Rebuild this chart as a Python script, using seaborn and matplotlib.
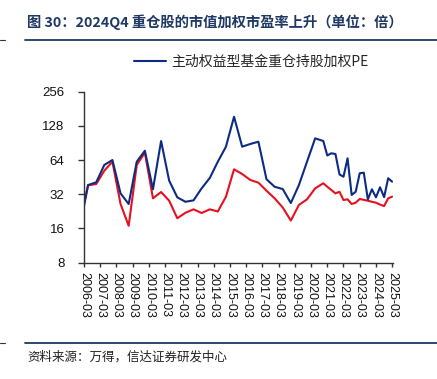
import numpy as np
import pandas as pd
import matplotlib
matplotlib.use("Agg")
import matplotlib.pyplot as plt
import matplotlib.dates as mdates
from matplotlib.lines import Line2D
import seaborn as sns

# ---------------- data ----------------
dates = [
    "2006-03", "2006-06", "2006-12", "2007-06", "2007-12", "2008-06", "2008-12",
    "2009-06", "2009-12", "2010-06", "2010-12", "2011-06", "2011-12", "2012-06",
    "2012-12", "2013-06", "2013-12", "2014-06", "2014-12", "2015-06", "2015-12",
    "2016-06", "2016-12", "2017-06", "2017-12", "2018-06", "2018-12", "2019-06",
    "2019-12", "2020-06", "2020-12", "2021-03", "2021-06", "2021-09", "2021-12",
    "2022-03", "2022-06", "2022-09", "2022-12", "2023-03", "2023-06", "2023-09",
    "2023-12", "2024-03", "2024-06", "2024-09", "2024-12", "2025-03",
]
fund_pe = [
    25.2, 38.6, 40.8, 58.0, 64.1, 32.6, 26.3, 62.0, 77.4, 35.4, 94.2, 42.2,
    30.1, 27.5, 28.3, 36.1, 44.5, 62.0, 84.0, 154.2, 84.0, 88.7, 92.9, 43.4,
    37.3, 35.6, 26.8, 38.6, 62.0, 99.5, 94.2,
    70.3, 73.5, 72.4, 47.8, 45.7, 66.4, 31.6, 33.7, 49.0, 49.6, 28.9, 35.4,
    30.1, 36.9, 30.2, 44.3, 41.3,
]
other_pe = [
    26.7, 38.4, 39.4, 51.6, 62.0, 26.3, 16.9, 58.0, 74.3, 29.5, 33.5, 28.1,
    19.7, 22.0, 23.6, 21.9, 23.6, 22.6, 30.5, 53.1, 48.3, 42.8, 40.5, 34.4,
    29.5, 24.5, 18.8, 25.8, 28.9, 36.1, 40.0,
    37.3, 34.9, 32.6, 33.7, 28.5, 28.9, 26.3, 27.0, 29.1, 28.6, 28.1, 27.5,
    27.0, 26.0, 25.2, 29.5, 30.5,
]
series_names = ["主动权益型基金重仓持股加权PE", "对比PE"]
y_ticks = [8, 16, 32, 64, 128, 256]
x_tick_years = list(range(2006, 2026))

title = "图 30：2024Q4 重仓股的市值加权市盈率上升（单位：倍）"
source = "资料来源：万得，信达证券研发中心"

# ---------------- build table ----------------
d = pd.to_datetime(dates, format="%Y-%m")
df = pd.DataFrame({
    "date": np.concatenate([d, d]),
    "pe": fund_pe + other_pe,
    "series": [series_names[0]] * len(d) + [series_names[1]] * len(d),
})

blue = "#0C2C84"
red = "#E8101E"
navy = "#1F3864"

sns.set_style("ticks")
plt.rcParams["font.family"] = ["Liberation Sans", "Noto Sans CJK SC", "DejaVu Sans"]

fig = plt.figure(figsize=(4.37, 3.79), dpi=100)
ax = fig.add_axes([84 / 437, 1 - 262.7 / 379, (393 - 84) / 437, (262.7 - 91.7) / 379])

sns.lineplot(data=df, x="date", y="pe", hue="series",
             palette={series_names[0]: blue, series_names[1]: red},
             hue_order=[series_names[1], series_names[0]],
             linewidth=1.5, legend=False, ax=ax)

ax.set_yscale("log", base=2)
ax.set_ylim(8, 256)
ax.set_yticks(y_ticks)
ax.set_yticklabels([str(v) for v in y_ticks])
ax.yaxis.set_minor_locator(matplotlib.ticker.NullLocator())

xt = [pd.Timestamp(f"{y}-03-01") for y in x_tick_years]
ax.set_xlim(pd.Timestamp("2006-03-01"), pd.Timestamp("2025-03-20"))
ax.set_xticks(xt)
ax.set_xticklabels([f"{y}-03" for y in x_tick_years], rotation=270)
ax.set_xlabel("")
ax.set_ylabel("")

for s in ["top", "right"]:
    ax.spines[s].set_visible(False)
for s in ["left", "bottom"]:
    ax.spines[s].set_color("#333333")
    ax.spines[s].set_linewidth(1.0)
ax.tick_params(axis="both", direction="out", length=3, width=1, color="#333333",
               labelcolor="#111111")
ax.tick_params(axis="y", labelsize=9.5, pad=10, length=4)
ax.tick_params(axis="x", labelsize=9, pad=4)

# legend (only the fund series)
handle = Line2D([0], [0], color=blue, linewidth=1.5)
fig.legend([handle], [series_names[0]], loc="center left",
           bbox_to_anchor=(134 / 437, 1 - 62 / 379), frameon=False,
           borderpad=0, borderaxespad=0, handlelength=2.3, handletextpad=0.35,
           prop={"family": ["Noto Sans CJK SC"], "size": 10})

# title and rules
fig.text(27 / 437, 1 - 22 / 379, title, ha="left", va="center", color=navy,
         fontsize=10.3, fontweight="bold", family=["Noto Sans CJK SC", "DejaVu Sans"])
fig.add_artist(Line2D([25 / 437, 1], [1 - 40 / 379, 1 - 40 / 379], color=navy,
                      linewidth=1.3, transform=fig.transFigure))
fig.add_artist(Line2D([25 / 437, 1], [1 - 343 / 379, 1 - 343 / 379], color=navy,
                      linewidth=1.3, transform=fig.transFigure))
for yy in (40, 343):
    fig.add_artist(Line2D([0, 5 / 437], [1 - yy / 379, 1 - yy / 379], color="#333333",
                          linewidth=0.8, transform=fig.transFigure))
fig.text(27 / 437, 1 - 357 / 379, source, ha="left", va="center", color="#222222",
         fontsize=9, style="italic", family=["Noto Sans CJK SC", "DejaVu Sans"])

fig.savefig("out.png", dpi=100)
